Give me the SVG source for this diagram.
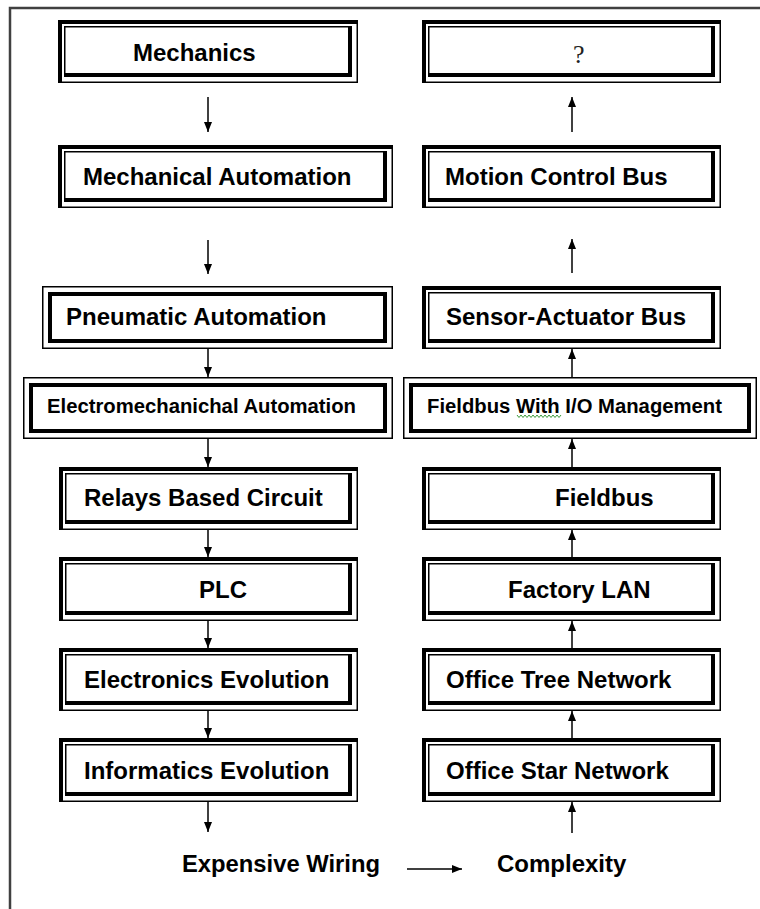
<svg xmlns="http://www.w3.org/2000/svg" width="760" height="909" viewBox="0 0 760 909">
<style>
  .bg{fill:#ffffff}
  .o{fill:#ffffff;stroke:#000;stroke-width:1.5}
  .i{fill:none;stroke:#000;stroke-width:1.5}
  .tk{fill:none;stroke:#000;stroke-width:4}
  .ik{fill:none;stroke:#000;stroke-width:4}
  .t{font-family:"Liberation Sans",Arial,sans-serif;font-weight:bold;font-size:24px;fill:#000}
  .ts{font-family:"Liberation Sans",Arial,sans-serif;font-weight:bold;font-size:20px;fill:#000}
  .q{font-family:"Liberation Serif","Times New Roman",serif;font-size:26px;fill:#222}
  .c{fill:none;stroke:#000;stroke-width:1.5}
  .frame{fill:none;stroke:#404040;stroke-width:2.5}
</style>
<defs>
  <marker id="ah" viewBox="0 0 10 8" refX="10" refY="4" markerWidth="10" markerHeight="8" markerUnits="userSpaceOnUse" orient="auto">
    <path d="M0,0 L10,4 L0,8 z" fill="#000"/>
  </marker>
</defs>
<rect class="bg" x="0" y="0" width="760" height="909"/>
<path class="frame" d="M10 909 V8 H760"/>

<g id="n1">
  <rect class="o" x="58.75" y="20.75" width="298.5" height="61.5"/>
  <path class="tk" d="M60 83 V22 H358"/>
  <rect class="i" x="64.75" y="26.75" width="286.5" height="49.5"/>
  <path class="ik" d="M64 75 H350 V26"/>
  <text class="t" x="133" y="61">Mechanics</text>
</g>
<g id="n2">
  <rect class="o" x="58.75" y="145.75" width="333.5" height="61.5"/>
  <path class="tk" d="M60 208 V147 H393"/>
  <rect class="i" x="64.75" y="151.75" width="321.5" height="49.5"/>
  <path class="ik" d="M64 200 H385 V151"/>
  <text class="t" x="83" y="185">Mechanical Automation</text>
</g>
<g id="n3">
  <rect class="o" x="42.75" y="286.75" width="349.5" height="61.5"/>
  <rect class="ik" x="50" y="294" width="335" height="47"/>
  <text class="t" x="66" y="325">Pneumatic Automation</text>
</g>
<g id="n4">
  <rect class="o" x="23.75" y="377.75" width="368.5" height="60.5"/>
  <rect class="ik" x="31" y="385" width="354" height="46"/>
  <text class="ts" x="47" y="413" textLength="309" lengthAdjust="spacingAndGlyphs">Electromechanichal Automation</text>
</g>
<g id="n5">
  <rect class="o" x="59.75" y="467.75" width="297.5" height="61.5"/>
  <path class="tk" d="M61 530 V469 H358"/>
  <rect class="i" x="65.75" y="473.75" width="285.5" height="49.5"/>
  <path class="ik" d="M65 522 H350 V473"/>
  <text class="t" x="84" y="506">Relays Based Circuit</text>
</g>
<g id="n6">
  <rect class="o" x="59.75" y="557.75" width="297.5" height="62.5"/>
  <path class="tk" d="M61 621 V559 H358"/>
  <rect class="i" x="65.75" y="563.75" width="285.5" height="50.5"/>
  <path class="ik" d="M65 613 H350 V563"/>
  <text class="t" x="199" y="598">PLC</text>
</g>
<g id="n7">
  <rect class="o" x="59.75" y="648.75" width="297.5" height="61.5"/>
  <path class="tk" d="M61 711 V650 H358"/>
  <rect class="i" x="65.75" y="654.75" width="285.5" height="49.5"/>
  <path class="ik" d="M65 703 H350 V654"/>
  <text class="t" x="84" y="688">Electronics Evolution</text>
</g>
<g id="n8">
  <rect class="o" x="59.75" y="738.75" width="297.5" height="62.5"/>
  <path class="tk" d="M61 802 V740 H358"/>
  <rect class="i" x="65.75" y="744.75" width="285.5" height="50.5"/>
  <path class="ik" d="M65 794 H350 V744"/>
  <text class="t" x="84" y="779">Informatics Evolution</text>
</g>

<g id="r1">
  <rect class="o" x="422.75" y="20.75" width="297.5" height="61.5"/>
  <path class="tk" d="M424 83 V22 H721"/>
  <rect class="i" x="428.75" y="26.75" width="285.5" height="49.5"/>
  <path class="ik" d="M428 75 H713 V26"/>
  <text class="q" x="573" y="63">?</text>
</g>
<g id="r2">
  <rect class="o" x="422.75" y="145.75" width="297.5" height="61.5"/>
  <path class="tk" d="M424 208 V147 H721"/>
  <rect class="i" x="428.75" y="151.75" width="285.5" height="49.5"/>
  <path class="ik" d="M428 200 H713 V151"/>
  <text class="t" x="445" y="185">Motion Control Bus</text>
</g>
<g id="r3">
  <rect class="o" x="422.75" y="286.75" width="297.5" height="61.5"/>
  <path class="tk" d="M424 349 V288 H721"/>
  <rect class="i" x="428.75" y="292.75" width="285.5" height="49.5"/>
  <path class="ik" d="M428 341 H713 V292"/>
  <text class="t" x="446" y="325">Sensor-Actuator Bus</text>
</g>
<g id="r4">
  <rect class="o" x="403.75" y="377.75" width="352.5" height="60.5"/>
  <rect class="ik" x="411" y="385" width="338" height="46"/>
  <text class="ts" x="427" y="413" textLength="295" lengthAdjust="spacingAndGlyphs">Fieldbus With I/O Management</text>
  <path d="M517 415 l2 2.5 l2 -2.5 l2 2.5 l2 -2.5 l2 2.5 l2 -2.5 l2 2.5 l2 -2.5 l2 2.5 l2 -2.5 l2 2.5 l2 -2.5 l2 2.5 l2 -2.5 l2 2.5 l2 -2.5 l2 2.5 l2 -2.5 l2 2.5 l2 -2.5 l2 2.5 l2 -2.5" fill="none" stroke="#3a9a3a" stroke-width="1"/>
</g>
<g id="r5">
  <rect class="o" x="422.75" y="467.75" width="297.5" height="61.5"/>
  <path class="tk" d="M424 530 V469 H721"/>
  <rect class="i" x="428.75" y="473.75" width="285.5" height="49.5"/>
  <path class="ik" d="M428 522 H713 V473"/>
  <text class="t" x="555" y="506">Fieldbus</text>
</g>
<g id="r6">
  <rect class="o" x="422.75" y="557.75" width="297.5" height="62.5"/>
  <path class="tk" d="M424 621 V559 H721"/>
  <rect class="i" x="428.75" y="563.75" width="285.5" height="50.5"/>
  <path class="ik" d="M428 613 H713 V563"/>
  <text class="t" x="508" y="598">Factory LAN</text>
</g>
<g id="r7">
  <rect class="o" x="422.75" y="648.75" width="297.5" height="61.5"/>
  <path class="tk" d="M424 711 V650 H721"/>
  <rect class="i" x="428.75" y="654.75" width="285.5" height="49.5"/>
  <path class="ik" d="M428 703 H713 V654"/>
  <text class="t" x="446" y="688">Office Tree Network</text>
</g>
<g id="r8">
  <rect class="o" x="422.75" y="738.75" width="297.5" height="62.5"/>
  <path class="tk" d="M424 802 V740 H721"/>
  <rect class="i" x="428.75" y="744.75" width="285.5" height="50.5"/>
  <path class="ik" d="M428 794 H713 V744"/>
  <text class="t" x="446" y="779">Office Star Network</text>
</g>

<g id="l1">
  <text class="t" x="182" y="872" textLength="198" lengthAdjust="spacingAndGlyphs">Expensive Wiring</text>
</g>
<g id="l2">
  <text class="t" x="497" y="872">Complexity</text>
</g>

<g id="connectors">
  <line class="c" x1="208" y1="97" x2="208" y2="132" marker-end="url(#ah)"/>
  <line class="c" x1="208" y1="240" x2="208" y2="274" marker-end="url(#ah)"/>
  <line class="c" x1="208" y1="349" x2="208" y2="377" marker-end="url(#ah)"/>
  <line class="c" x1="208" y1="439" x2="208" y2="467" marker-end="url(#ah)"/>
  <line class="c" x1="208" y1="530" x2="208" y2="557" marker-end="url(#ah)"/>
  <line class="c" x1="208" y1="621" x2="208" y2="648" marker-end="url(#ah)"/>
  <line class="c" x1="208" y1="711" x2="208" y2="738" marker-end="url(#ah)"/>
  <line class="c" x1="208" y1="802" x2="208" y2="832" marker-end="url(#ah)"/>
  <line class="c" x1="572" y1="833" x2="572" y2="802" marker-end="url(#ah)"/>
  <line class="c" x1="572" y1="738" x2="572" y2="711" marker-end="url(#ah)"/>
  <line class="c" x1="572" y1="648" x2="572" y2="621" marker-end="url(#ah)"/>
  <line class="c" x1="572" y1="557" x2="572" y2="530" marker-end="url(#ah)"/>
  <line class="c" x1="572" y1="467" x2="572" y2="439" marker-end="url(#ah)"/>
  <line class="c" x1="572" y1="377" x2="572" y2="349" marker-end="url(#ah)"/>
  <line class="c" x1="572" y1="273" x2="572" y2="239" marker-end="url(#ah)"/>
  <line class="c" x1="572" y1="132" x2="572" y2="97" marker-end="url(#ah)"/>
  <line class="c" x1="407" y1="869" x2="462" y2="869" marker-end="url(#ah)"/>
</g>
</svg>
